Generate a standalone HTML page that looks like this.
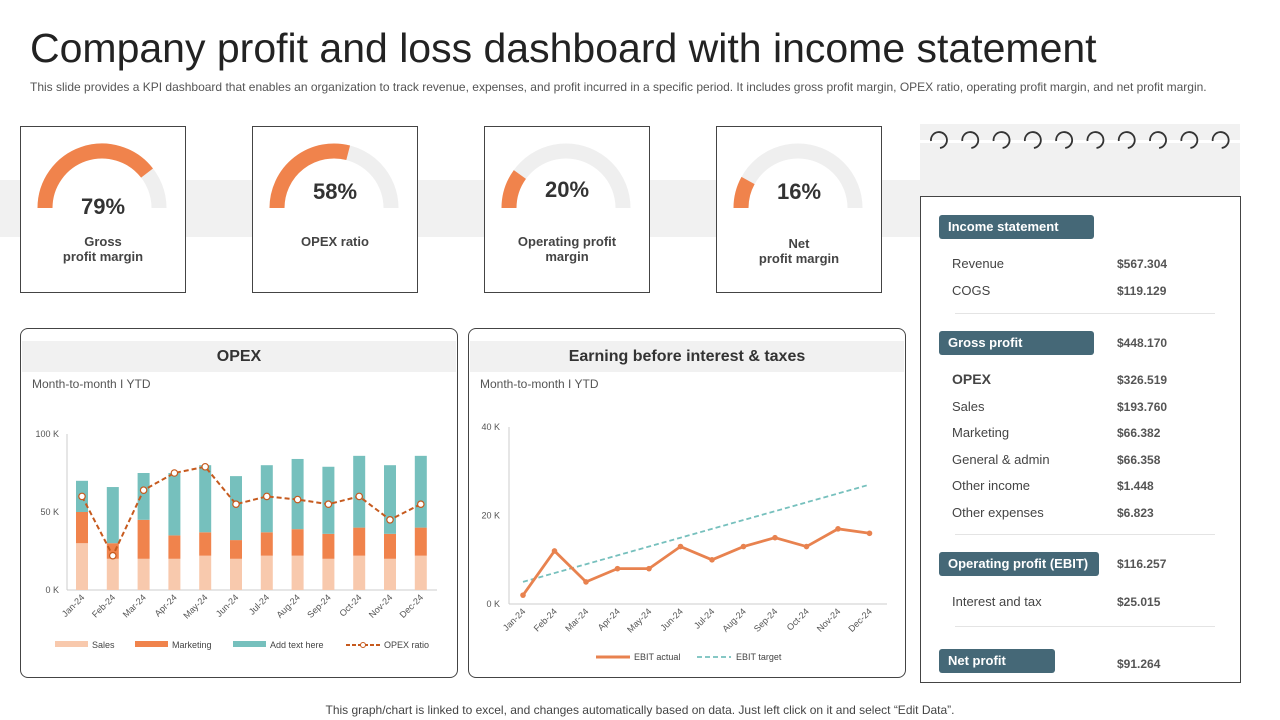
<!DOCTYPE html>
<html><head><meta charset="utf-8"><style>
*{margin:0;padding:0;box-sizing:border-box}
body{width:1280px;height:720px;background:#fff;font-family:"Liberation Sans",sans-serif;position:relative;overflow:hidden;color:#333}
.abs{position:absolute}
.card{position:absolute;border:1px solid #444;background:#fff;top:126px;width:166px;height:167px}
.pct{position:absolute;width:100%;text-align:center;font-size:22px;font-weight:bold;color:#333}
.lbl{position:absolute;width:100%;text-align:center;font-size:13px;font-weight:bold;color:#444;line-height:15px}
.panel{position:absolute;border:1px solid #444;border-radius:8px;background:#fff;top:328px;height:350px}
.ptitle{position:absolute;left:1px;right:1px;top:12px;height:31px;background:#f1f1f1;text-align:center;font-size:16px;line-height:31px;color:#333;font-weight:bold}
.sub{position:absolute;top:48px;font-size:12px;color:#555}
.hdr{position:absolute;left:939px;background:#456877;color:#fff;font-weight:bold;font-size:13px;border-radius:3px;padding-left:9px;line-height:24px;height:24px}
.row{position:absolute;left:952px;font-size:13px;color:#444}
.val{position:absolute;left:1117px;font-size:12px;font-weight:bold;color:#555}
</style></head><body>
<div class="abs" style="left:30px;top:25px;font-size:41px;color:#222">Company profit and loss dashboard with income statement</div>
<div class="abs" style="left:30px;top:80px;font-size:12px;color:#555;white-space:nowrap">This slide provides a KPI dashboard that enables an organization to track revenue, expenses, and profit incurred in a specific period. It includes gross profit margin, OPEX ratio, operating profit margin, and net profit margin.</div>
<div class="abs" style="left:0;top:180px;width:920px;height:57px;background:#f1f1f1"></div>

<div id="cards"></div>

<div class="panel" style="left:20px;width:438px">
<div class="ptitle">OPEX</div>
<div class="sub" style="left:11px">Month-to-month I YTD</div>
</div>
<div class="panel" style="left:468px;width:438px">
<div class="ptitle">Earning before interest &amp; taxes</div>
<div class="sub" style="left:11px">Month-to-month I YTD</div>
</div>
<svg class="abs" style="left:0;top:0" width="1280" height="720" id="charts"></svg>

<div class="abs" style="left:920px;top:124px;width:320px;height:72px;background:#f1f1f1"></div>
<div class="abs" style="left:920px;top:140px;width:320px;height:3px;background:#fff"></div>
<svg class="abs" style="left:920px;top:124px" width="320" height="40" id="spiral"></svg>
<div class="abs" style="left:920px;top:196px;width:321px;height:487px;border:1px solid #444;background:#fff"></div>

<div class="hdr" style="top:215px;width:155px">Income statement</div>
<div class="row" style="top:256px">Revenue</div><div class="val" style="top:257px">$567.304</div>
<div class="row" style="top:283px">COGS</div><div class="val" style="top:284px">$119.129</div>
<div class="abs" style="left:955px;top:313px;width:260px;height:1px;background:#e4e4e4"></div>
<div class="hdr" style="top:331px;width:155px">Gross profit</div><div class="val" style="top:336px">$448.170</div>
<div class="row" style="top:371px;font-weight:bold;font-size:14px">OPEX</div><div class="val" style="top:373px">$326.519</div>
<div class="row" style="top:399px">Sales</div><div class="val" style="top:400px">$193.760</div>
<div class="row" style="top:425px">Marketing</div><div class="val" style="top:426px">$66.382</div>
<div class="row" style="top:452px">General &amp; admin</div><div class="val" style="top:453px">$66.358</div>
<div class="row" style="top:478px">Other income</div><div class="val" style="top:479px">$1.448</div>
<div class="row" style="top:505px">Other expenses</div><div class="val" style="top:506px">$6.823</div>
<div class="abs" style="left:955px;top:534px;width:260px;height:1px;background:#e4e4e4"></div>
<div class="hdr" style="top:552px;width:160px">Operating profit (EBIT)</div><div class="val" style="top:557px">$116.257</div>
<div class="row" style="top:594px">Interest and tax</div><div class="val" style="top:595px">$25.015</div>
<div class="abs" style="left:955px;top:626px;width:260px;height:1px;background:#e4e4e4"></div>
<div class="hdr" style="top:649px;width:116px">Net profit</div><div class="val" style="top:657px">$91.264</div>

<div class="abs" style="left:0;width:1280px;text-align:center;top:703px;font-size:12px;color:#444">This graph/chart is linked to excel,  and changes automatically based on data. Just left click on it and select “Edit Data”.</div>

<script>
const NS="http://www.w3.org/2000/svg";
function mk(p,t,a){const e=document.createElementNS(NS,t);for(const k in a)e.setAttribute(k,a[k]);p.appendChild(e);return e;}
// KPI gauges
const kpiValues=[79,58,20,16];
const kpiLabels=[["Gross","profit margin"],["OPEX ratio"],["Operating profit","margin"],["Net","profit margin"]];
const kpiLefts=[20,252,484,716];
const cards=document.getElementById('cards');
kpiValues.forEach((v,i)=>{
  const c=document.createElement('div');c.className='card';c.style.left=kpiLefts[i]+'px';
  
  
  const s=document.createElementNS(NS,'svg');s.setAttribute('width','166');s.setAttribute('height','167');s.style.position='absolute';s.style.left='-1px';s.style.top='-1px';
  const cx=82,cy=82,r=57;
  mk(s,'path',{d:`M${cx-r} ${cy} A${r} ${r} 0 0 1 ${cx+r} ${cy}`,stroke:'#efefef','stroke-width':15,fill:'none'});
  const a=Math.PI*(1-v/100);
  const arc=mk(s,'path',{d:`M${cx-r} ${cy} A${r} ${r} 0 0 1 ${cx+r*Math.cos(a)} ${cy-r*Math.sin(a)}`,stroke:'#f0834c','stroke-width':15,fill:'none'});
  
  
  c.appendChild(s);
  const p=document.createElement('div');p.className='pct';p.textContent=v+'%';
  p.style.top=(i==0?67:i==1?52:i==2?50:52)+'px';
  
  
  c.appendChild(p);
  const l=document.createElement('div');l.className='lbl';l.innerHTML=kpiLabels[i].join('<br>');
  l.style.top=(i==3?109:107)+'px';
  
  
  c.appendChild(l);
  cards.appendChild(c);
});
// spiral
const sp=document.getElementById('spiral');
for(let i=0;i<10;i++){const x=19+i*31.3;mk(sp,'path',{d:`M${x-8} ${17} A8 8 0 1 1 ${x+1} ${24}`,stroke:'#333','stroke-width':1.8,fill:'none'});}

// OPEX chart data
const months=["Jan-24","Feb-24","Mar-24","Apr-24","May-24","Jun-24","Jul-24","Aug-24","Sep-24","Oct-24","Nov-24","Dec-24"];
const salesVals=[30,20,20,20,22,20,22,22,20,22,20,22];
const marketingVals=[20,10,25,15,15,12,15,17,16,18,16,18];
const otherVals=[20,36,30,40,43,41,43,45,43,46,44,46];
const opexRatio=[60,22,64,75,79,55,60,58,55,60,45,55];
const opexTicks=[0,50,100];
const ebitActual=[2,12,5,8,8,13,10,13,15,13,17,16];
const ebitTarget=[5,7,9,11,13,15,17,19,21,23,25,27];
const ebitTicks=[0,20,40];

const svg=document.getElementById('charts');
const oy=v=>590-v*1.56, ox=i=>82+i*30.8;
mk(svg,'line',{x1:67,y1:434,x2:67,y2:590,stroke:'#ccc'});
mk(svg,'line',{x1:67,y1:590,x2:437,y2:590,stroke:'#ccc'});
opexTicks.forEach(t=>{const e=mk(svg,'text',{x:59,y:oy(t)+3,'font-size':9,fill:'#555','text-anchor':'end'});e.textContent=t+' K';});
months.forEach((m,i)=>{
  const x=ox(i),w=12;let b=0;
  [[salesVals,'#f8c9ad'],[marketingVals,'#f0834c'],[otherVals,'#76c0bd']].forEach(([arr,col])=>{
    const r=mk(svg,'rect',{x:x-w/2,y:oy(b+arr[i]),width:w,height:arr[i]*1.56,fill:col});
    
    
    b+=arr[i];});
  const t=mk(svg,'text',{x:x+3,y:598,'font-size':9,fill:'#555','text-anchor':'end',transform:`rotate(-45 ${x+3} 598)`});t.textContent=m;
});
mk(svg,'polyline',{points:opexRatio.map((v,i)=>ox(i)+','+oy(v)).join(' '),fill:'none',stroke:'#c65a1e','stroke-width':2,'stroke-dasharray':'5 3'});
opexRatio.forEach((v,i)=>{const c=mk(svg,'circle',{cx:ox(i),cy:oy(v),r:3.2,fill:'#fff',stroke:'#c65a1e','stroke-width':1.2});
  
  });
// OPEX legend
[[55,'Sales','#f8c9ad'],[135,'Marketing','#f0834c'],[233,'Add text here','#76c0bd']].forEach(([x,t,c])=>{
  mk(svg,'rect',{x:x,y:641,width:33,height:6,fill:c});
  const e=mk(svg,'text',{x:x+37,y:648,'font-size':9,fill:'#444'});e.textContent=t;});
mk(svg,'line',{x1:346,y1:645,x2:380,y2:645,stroke:'#c65a1e','stroke-width':2,'stroke-dasharray':'4 2'});
mk(svg,'circle',{cx:363,cy:645,r:2.5,fill:'#fff',stroke:'#c65a1e'});
{const e=mk(svg,'text',{x:384,y:648,'font-size':9,fill:'#444'});e.textContent='OPEX ratio';}

// EBIT chart
const ey=v=>604-v*4.42, ex=i=>523+i*31.5;
mk(svg,'line',{x1:509,y1:427,x2:509,y2:604,stroke:'#ccc'});
mk(svg,'line',{x1:509,y1:604,x2:887,y2:604,stroke:'#ccc'});
ebitTicks.forEach(t=>{const e=mk(svg,'text',{x:500,y:ey(t)+3,'font-size':9,fill:'#555','text-anchor':'end'});e.textContent=t+' K';});
months.forEach((m,i)=>{const x=ex(i);const t=mk(svg,'text',{x:x+3,y:612,'font-size':9,fill:'#555','text-anchor':'end',transform:`rotate(-45 ${x+3} 612)`});t.textContent=m;});
const tl=mk(svg,'polyline',{points:ebitTarget.map((v,i)=>ex(i)+','+ey(v)).join(' '),fill:'none',stroke:'#76c0bd','stroke-width':1.8,'stroke-dasharray':'5 3'});


const al=mk(svg,'polyline',{points:ebitActual.map((v,i)=>ex(i)+','+ey(v)).join(' '),fill:'none',stroke:'#e8824f','stroke-width':2.8});


ebitActual.forEach((v,i)=>{const c=mk(svg,'circle',{cx:ex(i),cy:ey(v),r:2.8,fill:'#e8824f'});
  
  });
mk(svg,'line',{x1:596,y1:657,x2:630,y2:657,stroke:'#e8824f','stroke-width':3});
{const e=mk(svg,'text',{x:634,y:660,'font-size':9,fill:'#444'});e.textContent='EBIT actual';}
mk(svg,'line',{x1:697,y1:657,x2:731,y2:657,stroke:'#76c0bd','stroke-width':1.8,'stroke-dasharray':'5 3'});
{const e=mk(svg,'text',{x:736,y:660,'font-size':9,fill:'#444'});e.textContent='EBIT target';}
</script>
</body></html>
